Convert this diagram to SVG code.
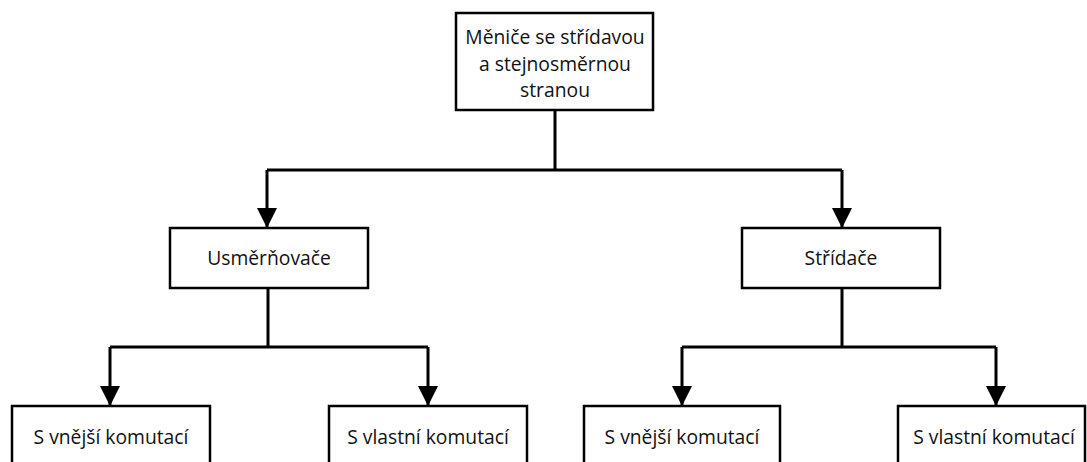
<svg xmlns="http://www.w3.org/2000/svg" width="1087" height="462" viewBox="0 0 1087 462">
<style>
.box{fill:#fff;stroke:#000;stroke-width:2.5}
.t{font-family:"Open Sans","Liberation Sans",sans-serif;font-size:19.3px;fill:#111;text-anchor:middle}
.c{fill:none;stroke:#000;stroke-width:3}
</style>
<defs>
<marker id="ah" markerUnits="userSpaceOnUse" markerWidth="20" markerHeight="20" viewBox="0 0 20 20" refX="20" refY="10" orient="auto">
<path d="M0,0 L20,10 L0,20 Z" fill="#000"/>
</marker>
</defs>
<g id="connectors">
<path class="c" d="M555,110 V170"/>
<path class="c" d="M267,170 H842"/>
<path class="c" d="M267,170 V228" marker-end="url(#ah)"/>
<path class="c" d="M842,170 V228" marker-end="url(#ah)"/>
<path class="c" d="M268,288 V347"/>
<path class="c" d="M110,347 H428"/>
<path class="c" d="M110,347 V406" marker-end="url(#ah)"/>
<path class="c" d="M428,347 V406" marker-end="url(#ah)"/>
<path class="c" d="M842,288 V347"/>
<path class="c" d="M682,347 H996"/>
<path class="c" d="M682,347 V406" marker-end="url(#ah)"/>
<path class="c" d="M996,347 V406" marker-end="url(#ah)"/>
</g>
<g id="root">
<rect class="box" x="456" y="13" width="197" height="97"/>
<text class="t" x="555" y="44">Měniče se střídavou</text>
<text class="t" x="555" y="71">a stejnosměrnou</text>
<text class="t" x="555" y="97">stranou</text>
</g>
<g id="usmernovace">
<rect class="box" x="170" y="228" width="198" height="60"/>
<text class="t" x="269" y="265">Usměrňovače</text>
</g>
<g id="stridace">
<rect class="box" x="742" y="228" width="198" height="60"/>
<text class="t" x="841" y="265">Střídače</text>
</g>
<g id="u-vnejsi">
<rect class="box" x="12" y="406" width="198" height="70"/>
<text class="t" x="111" y="444">S vnější komutací</text>
</g>
<g id="u-vlastni">
<rect class="box" x="329" y="406" width="198" height="70"/>
<text class="t" x="428" y="444">S vlastní komutací</text>
</g>
<g id="s-vnejsi">
<rect class="box" x="584" y="406" width="196" height="70"/>
<text class="t" x="682" y="444">S vnější komutací</text>
</g>
<g id="s-vlastni">
<rect class="box" x="898" y="406" width="187" height="70"/>
<text class="t" x="994" y="444">S vlastní komutací</text>
</g>
</svg>
